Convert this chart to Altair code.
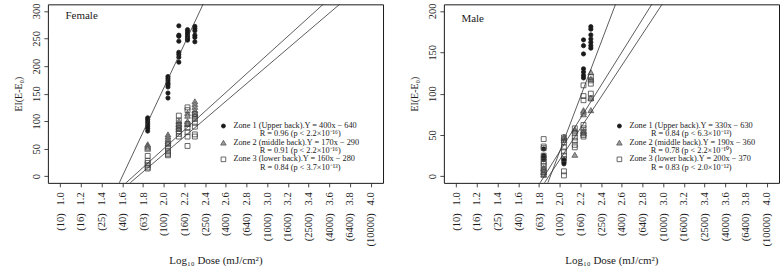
import altair as alt
import pandas as pd

# log10 of the five UV doses given (70, 110, 140, 170, 200 mJ/cm2)
log_dose = [1.845, 2.041, 2.146, 2.230, 2.301]

# EI(E-E0) readings per dose level, for each back zone
female_zone1 = [
    [106, 103, 99, 95, 91, 87, 82],
    [181, 177, 173, 169, 166, 162, 151, 142],
    [273, 256, 254, 245, 225, 221, 216, 207],
    [266, 262, 258, 254, 250, 247],
    [272, 268, 264, 256, 252, 244],
]
female_zone2 = [
    [58, 56, 54, 52, 50],
    [76, 72, 68, 64, 60],
    [100, 95, 90, 86],
    [115, 110, 100, 95],
    [136, 131, 126, 120, 115, 110],
]
female_zone3 = [
    [37, 28, 24, 20, 16, 14],
    [58, 52, 46, 43, 40, 38],
    [110, 101, 93, 88, 82, 77, 72],
    [125, 120, 95, 88, 80, 72, 55],
    [113, 108, 104, 97, 90, 76, 72],
]
male_zone1 = [
    [33, 25, 23, 22, 20],
    [20, 17, 15],
    [],
    [165, 158, 148, 130, 126, 122, 119],
    [181, 178, 171, 166, 162, 158, 155],
]
male_zone2 = [
    [10, 5, 2],
    [48, 46, 44],
    [57, 55, 26],
    [80, 78, 75, 55, 52],
    [126, 118, 95, 80],
]
male_zone3 = [
    [45, 36, 34, 25, 22, 18, 15, 12, 8, 5, 2],
    [47, 41, 35, 30, 25, 21, 6, 1],
    [58, 52, 47, 43, 38, 35],
    [110, 97, 92, 62, 58, 54, 50, 48],
    [120, 116, 112, 100, 94],
]

# linear fits Y = slope * x + intercept with their correlation statistics
female_slope = [400, 170, 160]
female_intercept = [-640, -290, -280]
female_r = ["0.96", "0.91", "0.84"]
female_p = ["2.2×10⁻¹⁶", "2.2×10⁻¹⁶", "3.7×10⁻¹³"]
male_slope = [330, 190, 200]
male_intercept = [-630, -360, -370]
male_r = ["0.84", "0.78", "0.83"]
male_p = ["6.3×10⁻¹³", "2.2×10⁻¹⁰", "2.0×10⁻¹²"]

zone_names = ["Zone 1 (Upper back)", "Zone 2 (middle back)", "Zone 3 (lower back)"]

x_ticks = [1.0, 1.2, 1.4, 1.6, 1.8, 2.0, 2.2, 2.4, 2.6, 2.8,
           3.0, 3.2, 3.4, 3.6, 3.8, 4.0]
dose_labels = ["(10)", "(16)", "(25)", "(40)", "(63)", "(100)", "(160)", "(250)",
               "(400)", "(640)", "(1000)", "(1600)", "(2500)", "(4000)",
               "(6400)", "(10000)"]

FONT = "Liberation Serif"
INK = "#1a1a1a"
W, H = 336, 179
X_LIM = [1.0, 4.0]

# marker style per zone: shape, fill, stroke, size
marker = [
    dict(shape="circle", fill=INK, stroke=INK, size=18),
    dict(shape="triangle-up", fill="#9c9c9c", stroke="#555555", size=34),
    dict(shape="square", fill=None, stroke="#444444", size=24),
]

label_expr = (
    "[" + ",".join("'" + d + "'" for d in dose_labels) + "]"
    "[round((datum.value - 1) / 0.2)] + '\u2002\u00a0' + format(datum.value, '.1f')"
)


def panel(name, zones, slopes, intercepts, rs, ps, y_max, y_step, name_y, line2_x):
    pad_x = (X_LIM[1] - X_LIM[0]) * 0.04
    x_dom = [X_LIM[0] - pad_x, X_LIM[1] + pad_x]
    y_dom = [-y_max * 0.04, y_max * 1.04]
    xs = alt.Scale(domain=x_dom, nice=False, zero=False)
    ys = alt.Scale(domain=y_dom, nice=False, zero=False)

    x_axis = alt.Axis(
        values=x_ticks, labelExpr=label_expr, labelAngle=-90, labelAlign="right",
        labelBaseline="middle", labelPadding=5, labelOverlap=False,
        title="Log₁₀ Dose (mJ/cm²)", titlePadding=9, titleFontSize=11,
    )
    y_axis = alt.Axis(
        values=list(range(0, y_max + 1, y_step)), labelAngle=-90, labelAlign="center",
        labelBaseline="alphabetic", labelPadding=4,
        title="EI(E-E₀)", titlePadding=8, titleFontSize=10,
    )

    def X(field):
        return alt.X(field, type="quantitative", scale=xs, axis=x_axis)

    def Y(field):
        return alt.Y(field, type="quantitative", scale=ys, axis=y_axis)

    layers = []
    for zi, zone in enumerate(zones):
        rows = [{"dose": log_dose[di], "ei": v} for di, vals in enumerate(zone) for v in vals]
        m = marker[zi]
        kw = dict(shape=m["shape"], size=m["size"], opacity=1, strokeWidth=0.8,
                  stroke=m["stroke"])
        if m["fill"] is None:
            mark = alt.Chart(pd.DataFrame(rows)).mark_point(filled=False, **kw)
        else:
            mark = alt.Chart(pd.DataFrame(rows)).mark_point(filled=True, fill=m["fill"], **kw)
        layers.append(mark.encode(x=X("dose"), y=Y("ei")))

    fit_rows = [
        {"x0": x_dom[0], "x1": x_dom[1],
         "y0": slopes[i] * x_dom[0] + intercepts[i],
         "y1": slopes[i] * x_dom[1] + intercepts[i]}
        for i in range(len(slopes))
    ]
    layers.append(
        alt.Chart(pd.DataFrame(fit_rows))
        .mark_rule(color="#333333", strokeWidth=0.8, clip=True)
        .encode(x=X("x0"), x2="x1", y=Y("y0"), y2="y1")
    )

    layers.append(
        alt.Chart(pd.DataFrame([{"x": 1.05, "y": name_y, "t": name}]))
        .mark_text(align="left", baseline="middle", font=FONT, fontSize=11, color=INK)
        .encode(x=X("x"), y=Y("y"), text="t:N")
    )

    # legend block
    sym_x, txt_x, row0, row_gap, line_gap = 176, 186, 122, 16.7, 8.5
    for i in range(3):
        ry = row0 + i * row_gap
        m = marker[i]
        kw = dict(shape=m["shape"], size=m["size"] * 0.9, opacity=1, strokeWidth=0.8,
                  stroke=m["stroke"])
        base = alt.Chart(pd.DataFrame([{"a": 0}]))
        if m["fill"] is None:
            sym = base.mark_point(filled=False, **kw)
        else:
            sym = base.mark_point(filled=True, fill=m["fill"], **kw)
        layers.append(sym.encode(x=alt.value(sym_x), y=alt.value(ry)))
        sign = "−" if intercepts[i] < 0 else "+"
        line1 = f"{zone_names[i]}.Y = {slopes[i]}x {sign} {abs(intercepts[i])}"
        line2 = f"R = {rs[i]} (p < {ps[i]})"
        layers.append(
            base.mark_text(align="left", baseline="middle", font=FONT, fontSize=8.3, color=INK)
            .encode(x=alt.value(txt_x), y=alt.value(ry), text=alt.value(line1))
        )
        layers.append(
            base.mark_text(align="center", baseline="middle", font=FONT, fontSize=8.3, color=INK)
            .encode(x=alt.value(line2_x), y=alt.value(ry + line_gap), text=alt.value(line2))
        )

    return alt.layer(*layers).properties(width=W, height=H)


female = panel("Female", [female_zone1, female_zone2, female_zone3],
               female_slope, female_intercept, female_r, female_p, 300, 50, 290, 253)
male = panel("Male", [male_zone1, male_zone2, male_zone3],
             male_slope, male_intercept, male_r, male_p, 200, 50, 190, 248)

chart = (
    alt.hconcat(female, male, spacing=25)
    .resolve_scale(x="independent", y="independent")
    .properties(padding={"left": 13, "top": 2, "right": 0, "bottom": 0})
    .configure(font=FONT)
    .configure_view(stroke=INK, strokeWidth=1)
    .configure_axis(
        labelFont=FONT, titleFont=FONT, labelFontSize=10.5, labelColor=INK,
        titleColor=INK, titleFontWeight="normal", tickColor=INK, tickSize=4,
        tickWidth=0.8, domain=False, grid=False,
    )
)

chart.save("out.html", embed_options={"renderer": "svg", "actions": False})
